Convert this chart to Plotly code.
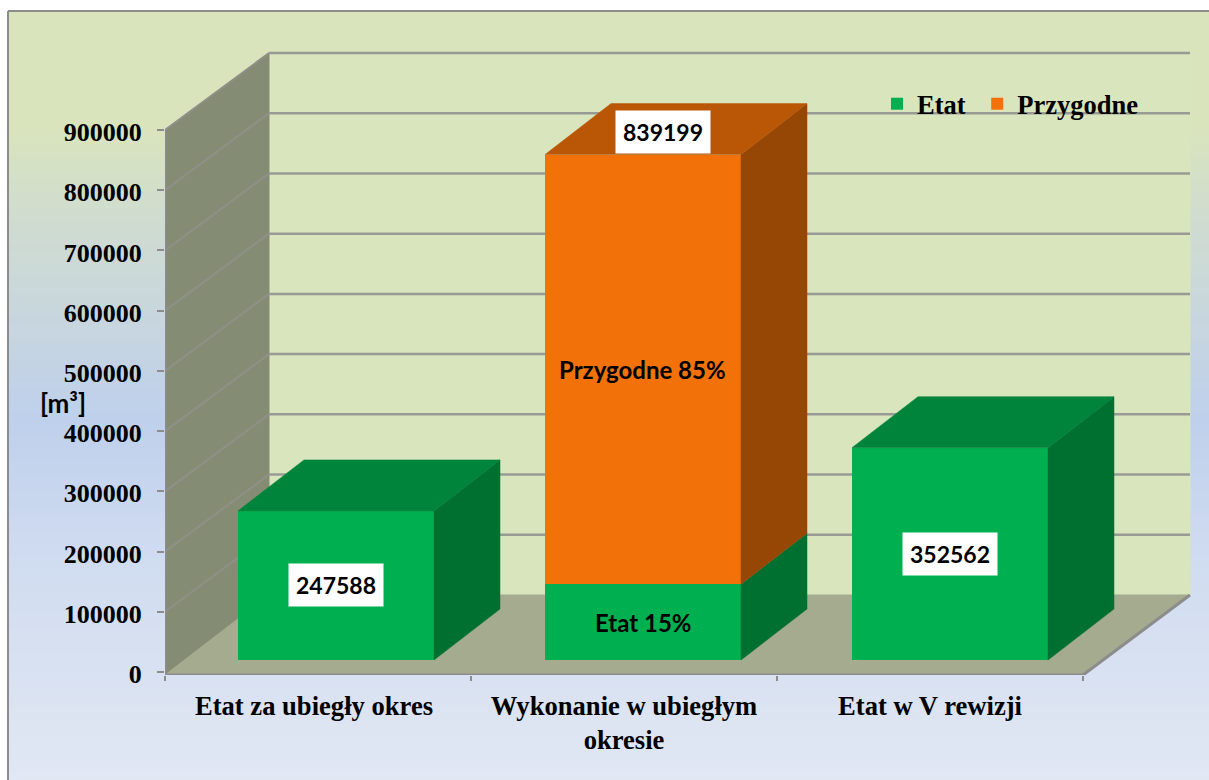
import plotly.graph_objects as go

# --- data ---
categories = ["Etat za ubiegły okres", "Wykonanie w ubiegłym<br>okresie", "Etat w V rewizji"]
etat = [247588, 125880, 352562]
przygodne = [None, 713319, None]
totals = [247588, 839199, 352562]
y_ticks = [0, 100000, 200000, 300000, 400000, 500000, 600000, 700000, 800000, 900000]
inner_labels = ["Etat 15%", "Przygodne 85%"]
unit_label = "[m³]"

# --- geometry (pixels) ---
W, H = 1209, 780
L, R, T, B = 165, 1192, 49, 675       # plot box in page pixels
ZERO_DROP = 3                         # floor front edge sits below the zero tick
CAT_PX = 306.0                        # width of one category
VAL_PX = 542.0 / 900000.0             # pixels per unit of value
WALL_DX, WALL_DY = 104, 77            # oblique offset of back wall
BACK_EXTRA = 3                        # back wall runs slightly further right
BAR_DX, BAR_DY = 66, 51               # oblique offset of bar depth
BAR_W = 196                           # bar front width
FLOOR_DY = 12                         # bar base above the axis

def dx(px): return px / CAT_PX
def dy(px): return px / VAL_PX
def px_x(px): return (px - L) / (R - L)
def px_y(px): return (B - px) / (B - T)

x_min = -0.5
x_max = x_min + dx(R - L)
y_min = -dy(ZERO_DROP)
y_max = dy(B - ZERO_DROP - T)
x_end = 2.5

base = dy(FLOOR_DY)
bar_x = [i + dx(18 + i) for i in range(3)]
bar_w = dx(BAR_W)

GREEN, GREEN_TOP, GREEN_SIDE = "#00b050", "#00833a", "#007030"
ORANGE, ORANGE_TOP, ORANGE_SIDE = "#f27209", "#b95707", "#974705"
WALL, BACK, FLOOR = "#858c74", "#d9e5bd", "#a5ab8e"
GRID = "#989b94"
SERIF = "Liberation Serif"
SANS = "Lato"

# --- background gradient ---
stops = [(11, (217, 228, 189)), (130, (217, 228, 189)), (215, (208, 220, 207)),
         (420, (191, 208, 236)), (560, (208, 220, 240)), (780, (225, 231, 243))]

def grad(y):
    for (y0, c0), (y1, c1) in zip(stops, stops[1:]):
        if y <= y1:
            t = (y - y0) / (y1 - y0)
            return "rgb(%d,%d,%d)" % tuple(round(a + (b - a) * t) for a, b in zip(c0, c1))
    return "rgb(%d,%d,%d)" % stops[-1][1]

shapes = []
for y in range(11, H, 6):
    shapes.append(dict(type="rect", xref="paper", yref="paper", layer="below",
                       x0=px_x(8), x1=px_x(W), y0=px_y(y), y1=px_y(y + 6),
                       fillcolor=grad(y + 3), line_width=0))
for a, b in [((8, 11), (8, H)), ((8, 11), (W, 11))]:
    shapes.append(dict(type="line", xref="paper", yref="paper", layer="below",
                       x0=px_x(a[0]), y0=px_y(a[1]), x1=px_x(b[0]), y1=px_y(b[1]),
                       line=dict(color="#8c8c8c", width=2)))

def poly(pts, color, line=None):
    path = "M" + " L".join(f"{x},{y}" for x, y in pts) + " Z"
    shapes.append(dict(type="path", xref="x", yref="y", layer="below", path=path,
                       fillcolor=color, line=dict(color=line or color, width=1)))

wx, wy = dx(WALL_DX), dy(WALL_DY)
top = y_ticks[-1]
xr = x_end
xb = xr + wx + dx(BACK_EXTRA)
poly([(x_min + wx, wy), (x_min + wx, top + wy), (xb, top + wy), (xb, wy)], BACK)
poly([(x_min, y_min), (x_min, top), (x_min + wx, top + wy), (x_min + wx, wy)], WALL)
poly([(x_min, y_min), (xr, y_min), (xb, wy), (x_min + wx, wy)], FLOOR)

for v in y_ticks:
    if v > 0:
        shapes.append(dict(type="line", xref="x", yref="y", layer="below",
                           x0=x_min + wx, x1=xb, y0=v + wy, y1=v + wy,
                           line=dict(color=GRID, width=2.5)))
        shapes.append(dict(type="line", xref="x", yref="y", layer="below",
                           x0=x_min, x1=x_min + wx, y0=v, y1=v + wy,
                           line=dict(color="#8f9189", width=2)))
for p, q in [((x_min, y_min), (xr, y_min)), ((xr, y_min), (xb, wy)), ((x_min, y_min), (x_min, top))]:
    shapes.append(dict(type="line", xref="x", yref="y", layer="below",
                       x0=p[0], y0=p[1], x1=q[0], y1=q[1],
                       line=dict(color="#8c8c8c", width=3)))

fig = go.Figure()

# --- bars (front faces) ---
fig.add_trace(go.Bar(name="Etat\u00a0", x=bar_x, y=etat, base=[base] * 3, width=bar_w,
                     marker=dict(color=GREEN, line_width=0)))
fig.add_trace(go.Bar(name="Przygodne", x=bar_x, y=przygodne,
                     base=[base + e for e in etat], width=bar_w,
                     marker=dict(color=ORANGE, line_width=0)))

# --- oblique faces ---
ddx, ddy = dx(BAR_DX), dy(BAR_DY)

def face(pts, color):
    fig.add_trace(go.Scatter(x=[p[0] for p in pts] + [pts[0][0]],
                             y=[p[1] for p in pts] + [pts[0][1]],
                             mode="lines", fill="toself", fillcolor=color,
                             line=dict(color=color, width=0.5),
                             showlegend=False, hoverinfo="skip"))

for cx, e, p in zip(bar_x, etat, przygodne):
    x1 = cx + bar_w / 2
    x0 = cx - bar_w / 2
    y1 = base + e
    face([(x1, base), (x1 + ddx, base + ddy), (x1 + ddx, y1 + ddy), (x1, y1)], GREEN_SIDE)
    if p is None:
        face([(x0, y1), (x1, y1), (x1 + ddx, y1 + ddy), (x0 + ddx, y1 + ddy)], GREEN_TOP)
    else:
        y2 = y1 + p
        face([(x1, y1), (x1 + ddx, y1 + ddy), (x1 + ddx, y2 + ddy), (x1, y2)], ORANGE_SIDE)
        face([(x0, y2), (x1, y2), (x1 + ddx, y2 + ddy), (x0 + ddx, y2 + ddy)], ORANGE_TOP)

# --- labels ---
def boxed(x, y, text):
    return dict(x=x, y=y, xref="x", yref="y", text=f"<b>{text}</b>", showarrow=False,
                bgcolor="white", borderpad=7, font=dict(family=SANS, size=23, color="#000"))

annotations = [
    boxed(bar_x[0], base + etat[0] * 0.5, totals[0]),
    boxed(bar_x[2], base + etat[2] * 0.5, totals[2]),
    boxed(bar_x[1] + dx(20), base + totals[1] + dy(23), totals[1]),
    dict(x=bar_x[1], y=base + etat[1] * 0.5, xref="x", yref="y", showarrow=False,
         text=f"<b>{inner_labels[0]}</b>", font=dict(family=SANS, size=24, color="#000")),
    dict(x=bar_x[1] - dx(1), y=base + etat[1] + przygodne[1] * 0.5, xref="x", yref="y", showarrow=False,
         text=f"<b>{inner_labels[1]}</b>", font=dict(family=SANS, size=24, color="#000")),
    dict(x=px_x(63), y=px_y(403), xref="paper", yref="paper", showarrow=False,
         xanchor="center", yanchor="middle",
         text=f"<b>{unit_label}</b>", font=dict(family=SANS, size=26, color="#000")),
]

fig.update_layout(
    width=W, height=H, autosize=False,
    margin=dict(l=L, r=W - R, t=T, b=H - B, pad=0),
    paper_bgcolor="white", plot_bgcolor="rgba(0,0,0,0)",
    barmode="overlay", bargap=0,
    shapes=shapes, annotations=annotations,
    xaxis=dict(range=[x_min, x_max], tickmode="array", tickvals=[-dx(4), 1, 2], ticktext=categories,
               ticks="", showgrid=False, zeroline=False, showline=False,
               tickfont=dict(family=SERIF, size=26.6, color="#000", weight=700),
               ticklabelstandoff=12,
               minor=dict(tickmode="array", tickvals=[-0.5, 0.5, 1.5, 2.5], ticks="outside",
                          ticklen=5, tickwidth=2, tickcolor="#8c8c8c", showgrid=False)),
    yaxis=dict(range=[y_min, y_max], tickmode="array", tickvals=y_ticks, showgrid=False,
               tickformat="d", zeroline=False, showline=False, ticks="outside", ticklen=7,
               tickwidth=2, tickcolor="#8c8c8c", ticklabelstandoff=10, ticklabelshift=2,
               tickfont=dict(family=SERIF, size=26, color="#000", weight=700)),
    legend=dict(orientation="h", xref="paper", yref="paper", x=px_x(877), y=px_y(80),
                xanchor="left", yanchor="top", bgcolor="rgba(0,0,0,0)", itemclick=False,
                font=dict(family=SERIF, size=26.5, color="#000", weight=700)),
    showlegend=True,
)

fig.write_html("out.html", post_script="document.body.style.margin='0';", config={"displayModeBar": False})
